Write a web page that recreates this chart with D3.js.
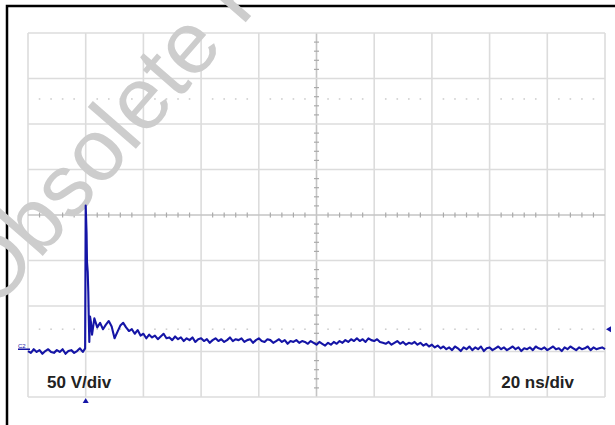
<!DOCTYPE html>
<html>
<head>
<meta charset="utf-8">
<title>scope</title>
<script src="https://cdn.jsdelivr.net/npm/d3@7"></script>
<style>
    body{ margin:0; background:#fff; }
    svg{ display:block; font-family:"Liberation Sans", Arial, sans-serif; }
</style>
</head>
<body>
<div id="chart"></div>
<script>
    // 20 ns/div, 50 V/div, trigger at t = 0
    var voltsPerDiv = 50
    var nsPerDiv = 20
    var groundDiv = -2.95   // channel ground, in divisions from screen centre

    // before trigger, one value per ns from -20 to -1
    var preTrigger = [-2, -4, 0, -3, -1, -5, -2, 0, -3, -4, -1, -3, 0, -5, -2, -1, -4, -2, 1, -3]

    // the spike itself
    var spikeT = [-0.2, 0, 0.3, 0.45, 0.7, 0.9, 1.05, 1.25, 1.5, 1.8, 2.2, 2.6, 3.0]
    var spikeV = [1, 158, 128, 96, 85, 63, 37, 8, 36, 30, 16, 25, 34]

    // after the spike, one value per ns from 4 to 180
    var tail = [
        24, 29, 22, 27, 31, 25, 12, 19, 26, 29,
        24, 20, 22, 17, 21, 15, 17, 12, 16, 13,
        15, 11, 14, 17, 12, 13, 10, 14, 11, 13,
        9, 12, 10, 13, 8, 11, 12, 9, 11, 7,
        10, 12, 9, 11, 8, 10, 13, 9, 11, 10,
        12, 8, 10, 11, 7, 10, 12, 9, 8, 11,
        10, 7, 9, 11, 8, 10, 6, 9, 8, 10,
        7, 9, 8, 6, 9, 7, 5, 8, 6, 4,
        7, 5, 8, 6, 9, 7, 10, 8, 11, 9,
        12, 9, 11, 8, 12, 10, 9, 11, 8, 7,
        6, 8, 5, 7, 9, 6, 8, 5, 7, 6,
        8, 5, 7, 4, 6, 3, 5, 2, 4, 1,
        3, 0, 2, -1, 3, 1, -2, 2, 0, 3,
        -1, 2, 0, 3, -2, 1, 2, -1, 1, 3,
        0, 2, -1, 1, 3, 0, 2, -2, 1, 0,
        2, -1, 3, 1, 0, 2, -1, 1, 3, 0,
        1, -2, 2, 0, 3, 1, -1, 2, 0, 1,
        3, -1, 2, 0, 1, 2, 0
    ]

    var cursors = [22, 275]   // dotted level cursors, volts
    var scaleLabels = ["50 V/div", "20 ns/div"]
    var channelName = "C2"

    var w = 615
    var h = 425
    var gLeft = 28, gRight = 605, gTop = 33, gBottom = 397

    var data = []
    preTrigger.forEach(function(v, i){ data.push([-20 + i, v]) })
    spikeT.forEach(function(t, i){ data.push([t, spikeV[i]]) })
    tail.forEach(function(v, i){ data.push([4 + i, v]) })

    var xScale = d3.scaleLinear().domain([-1 * nsPerDiv, 9 * nsPerDiv]).range([gLeft, gRight])
    var yScale = d3.scaleLinear()
        .domain([(-4 - groundDiv) * voltsPerDiv, (4 - groundDiv) * voltsPerDiv])
        .range([gBottom, gTop])
    var xDiv = d3.scaleLinear().domain([0, 10]).range([gLeft, gRight])
    var yDiv = d3.scaleLinear().domain([-4, 4]).range([gBottom, gTop])

    var svg = d3.select("#chart").append("svg")
        .attr("width", w)
        .attr("height", h)

    // outer frame
    svg.append("rect")
        .attr("x", 7).attr("y", 6)
        .attr("width", w + 20).attr("height", h + 20)
        .attr("fill", "none")
        .attr("stroke", "#000")
        .attr("stroke-width", 2.5)

    var grid = svg.append("g")
    grid.selectAll(".v")
        .data(d3.range(0, 11))
        .enter().append("line")
        .attr("x1", function(d){ return xDiv(d) })
        .attr("x2", function(d){ return xDiv(d) })
        .attr("y1", gTop).attr("y2", gBottom)
        .attr("stroke", function(d){ return d == 5 ? "#c4c4c4" : "#dcdcdc" })
        .attr("stroke-width", 1.6)
    grid.selectAll(".h")
        .data(d3.range(-4, 5))
        .enter().append("line")
        .attr("y1", function(d){ return yDiv(d) })
        .attr("y2", function(d){ return yDiv(d) })
        .attr("x1", gLeft).attr("x2", gRight)
        .attr("stroke", function(d){ return d == 0 ? "#c4c4c4" : "#dcdcdc" })
        .attr("stroke-width", 1.6)

    // minor ticks on the centre lines
    grid.selectAll(".tx")
        .data(d3.range(0, 50.01, 1).filter(function(d){ return d % 5 != 0 }))
        .enter().append("line")
        .attr("x1", function(d){ return xDiv(d / 5) })
        .attr("x2", function(d){ return xDiv(d / 5) })
        .attr("y1", yDiv(0) - 2.5).attr("y2", yDiv(0) + 2.5)
        .attr("stroke", "#aaa").attr("stroke-width", 1.2)
    grid.selectAll(".ty")
        .data(d3.range(-20, 20.01, 1).filter(function(d){ return d % 5 != 0 }))
        .enter().append("line")
        .attr("y1", function(d){ return yDiv(d / 5) })
        .attr("y2", function(d){ return yDiv(d / 5) })
        .attr("x1", xDiv(5) - 2.5).attr("x2", xDiv(5) + 2.5)
        .attr("stroke", "#aaa").attr("stroke-width", 1.2)

    // dotted cursors
    cursors.forEach(function(c){
        grid.selectAll(null)
            .data(d3.range(1, 50).filter(function(d){ return d % 5 != 0 }))
            .enter().append("rect")
            .attr("x", function(d){ return xDiv(d / 5) - 0.8 })
            .attr("y", yScale(c) - 0.8)
            .attr("width", 1.6).attr("height", 1.6)
            .attr("fill", "#cfcfcf")
    })

    // watermark
    svg.append("text")
        .text("Obsolete Product")
        .attr("transform", "translate(-6,312) rotate(-49)")
        .attr("font-size", 88)
        .attr("fill", "#cdcdcd")

    var line = d3.line()
        .x(function(d){ return xScale(d[0]) })
        .y(function(d){ return yScale(d[1]) })

    svg.append("path")
        .datum(data)
        .attr("d", line)
        .attr("fill", "none")
        .attr("stroke", "#1515a6")
        .attr("stroke-width", 2.1)
        .attr("stroke-linejoin", "round")

    // channel ground marker
    svg.append("line")
        .attr("x1", 18).attr("x2", gLeft + 2)
        .attr("y1", yScale(0)).attr("y2", yScale(0))
        .attr("stroke", "#1515a6").attr("stroke-width", 1.5)
    svg.append("text")
        .text(channelName)
        .attr("x", 18).attr("y", yScale(0) - 1.5)
        .attr("font-size", 6)
        .attr("fill", "#1515a6")

    // trigger position and level markers
    var tx = xScale(0)
    svg.append("path")
        .attr("d", "M" + tx + "," + (gBottom + 1) + "l-3,5h6z")
        .attr("fill", "#1515a6")
    var ly = yScale(cursors[0])
    svg.append("path")
        .attr("d", "M" + (gRight + 1) + "," + ly + "l5,-3v6z")
        .attr("fill", "#1515a6")

    svg.append("text")
        .text(scaleLabels[0])
        .attr("x", 47).attr("y", 388)
        .attr("font-size", 17).attr("font-weight", "bold")
        .attr("fill", "#222")
    svg.append("text")
        .text(scaleLabels[1])
        .attr("x", 574).attr("y", 388)
        .attr("text-anchor", "end")
        .attr("font-size", 17).attr("font-weight", "bold")
        .attr("fill", "#222")
</script>
</body>
</html>
